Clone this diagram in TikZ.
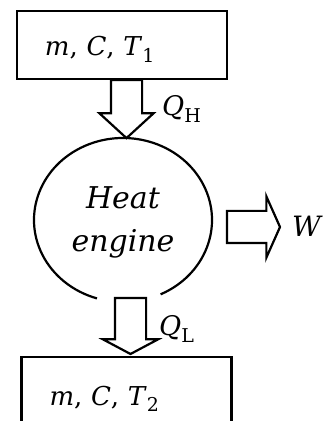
\documentclass[tikz,border=0pt]{standalone}
\usepackage{fontspec}
\setmainfont{DejaVu Serif}
\usetikzlibrary{shapes.arrows}
\newcommand\lowsub[1]{\raisebox{-0.45ex}{\fontsize{19}{20}\selectfont #1}}

\begin{document}
\begin{tikzpicture}[x=1pt,y=1pt]
\tikzset{box/.style={draw,line width=2.2pt,inner xsep=28pt,text width=154pt,align=left,font=\fontsize{26}{30}\selectfont},
flow/.style={draw,single arrow,line width=2.2pt,fill=white,inner xsep=0pt,outer sep=0pt},
lbl/.style={inner sep=0pt,anchor=base west,font=\fontsize{27}{30}\selectfont}}
\useasboundingbox (0,0) rectangle (327,421);
\clip (0,0) rectangle (327,421);
\node (hot) at (122,376) [box,minimum height=68pt,text height=28pt] {\textit{m}, \textit{C}, \textit{T}\lowsub{1}};
\node (cold) at (126.5,65) [box,anchor=north,minimum height=84pt] {\textit{m}, \textit{C}, \textit{T}\lowsub{2}};
\node (engine) at (123,199) [align=center,font=\itshape\fontsize{30}{43}\selectfont] {Heat\\engine};
\draw[line width=2.2pt] (123,201) ++(-65:89pt and 82pt) arc[start angle=-65,end angle=253,x radius=89pt,y radius=82pt];

\node (qh) at ([xshift=4.5pt]hot.south) [flow,rotate=-90,anchor=tail,inner ysep=14.5pt,minimum height=58pt,single arrow head extend=11.5pt,single arrow tip angle=95] {};
\node (ql) at ([xshift=4pt,yshift=2pt]cold.north) [flow,rotate=-90,anchor=tip,inner ysep=14.5pt,minimum height=56pt,single arrow head extend=12pt,single arrow tip angle=124] {};
\node (wout) at (227,194) [flow,anchor=tail,inner ysep=15pt,minimum height=53pt,single arrow head extend=14.5pt,single arrow tip angle=132] {};

\node (lqh) at (162,305) [lbl] {\textit{Q}\lowsub{H}};
\node (lql) at (159,85) [lbl] {\textit{Q}\lowsub{L}};
\node (lw) at (292,184) [lbl,font=\fontsize{28}{32}\selectfont] {\textit{W}};
\end{tikzpicture}
\end{document}
